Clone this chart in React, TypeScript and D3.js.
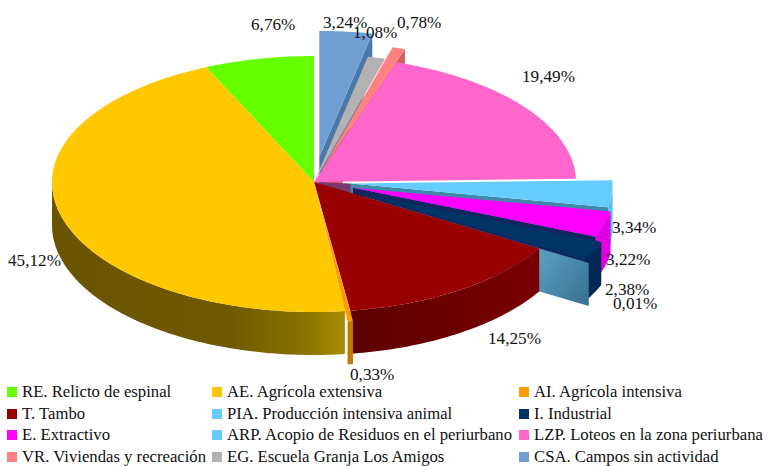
import React from "react";
import * as d3 from "d3";

const legendLabels = [
  "RE. Relicto de espinal", "AE. Agrícola extensiva", "AI. Agrícola intensiva",
  "T. Tambo", "PIA. Producción intensiva animal", "I. Industrial",
  "E. Extractivo", "ARP. Acopio de Residuos en el periurbano", "LZP. Loteos en la zona periurbana",
  "VR. Viviendas y recreación", "EG. Escuela Granja Los Amigos", "CSA. Campos sin actividad",
];
const codes = ["RE", "AE", "AI", "T", "PIA", "I", "E", "ARP", "LZP", "VR", "EG", "CSA"];
const shares = [6.76, 45.12, 0.33, 14.25, 0.01, 2.38, 3.22, 3.34, 19.49, 0.78, 1.08, 3.24];
const shareLabels = ["6,76%", "45,12%", "0,33%", "14,25%", "0,01%", "2,38%", "3,22%", "3,34%", "19,49%", "0,78%", "1,08%", "3,24%"];
const colors = ["#66ff00", "#ffc800", "#ff9900", "#990000", "#66ccff", "#003366", "#ff00ff", "#66ccff", "#ff66cc", "#ff8080", "#b2b2b2", "#6f9fd3"];

// layout (not data)
const explode: Record<string, number> = { AI: 0.08, PIA: 0.22, I: 0.19, E: 0.155, ARP: 0.14, VR: 0.11, EG: 0.015, CSA: 0.2 };
const labelAt: Record<string, [number, number]> = {
  RE: [251, 30], AE: [8, 266], AI: [350, 380], T: [488, 344], PIA: [613, 309], I: [605, 295],
  E: [606, 265], ARP: [612, 233], LZP: [522, 82], VR: [397, 28], EG: [353, 38], CSA: [323, 28],
};
const legendCols = [7, 212, 519];
const legendRows = [387, 409, 430, 452];
const cx = 314, cy = 182, rx = 262, ryBack = 126, ryFront = 130, depth = 43;
const paintOrder = ["CSA", "EG", "VR", "LZP", "ARP", "E", "I", "PIA", "T", "RE", "AE", "AI"];
const wallColors: Record<string, string> = { CSA: "#4a78a8", VR: "#d86060", ARP: "#3f8aa8", E: "#14245e", PIA: "url(#gPIA)" };
const sideFill: Record<string, string> = { AE: "url(#gAE)", T: "url(#gT)", AI: "#c27a00", I: "#002a55", E: "#e000e0", ARP: "#5cbcec", VR: "#d86060" };

const FONT = "'Liberation Serif', 'Times New Roman', serif";
type P = [number, number];
const line = d3.line<P>().x((d) => d[0]).y((d) => d[1]);
const ry = (a: number) => (Math.cos(a) > 0 ? ryBack : ryFront);
const pos = (a: number, r: number, o: P = [0, 0], dz = 0): P => [
  cx + o[0] + r * rx * Math.sin(a),
  cy + o[1] + dz - r * ry(a) * Math.cos(a),
];
const arcPts = (a0: number, a1: number, o: P, dz = 0): P[] => {
  const n = Math.max(2, Math.ceil(Math.abs(a1 - a0) * 60));
  return d3.range(n + 1).map((i) => pos(a0 + ((a1 - a0) * i) / n, 1, o, dz));
};

export default function App() {
  const pie = d3.pie<number>().sort(null).startAngle(2 * Math.PI).endAngle(0);
  const arcs = pie(shares);
  const rows = codes.map((c, i) => {
    const a0 = arcs[i].endAngle, a1 = arcs[i].startAngle;
    const mid = (a0 + a1) / 2;
    const e = explode[c] ?? 0;
    const o: P = [e * rx * Math.sin(mid), -e * ry(mid) * Math.cos(mid)];
    return { c, i, a0, a1, o, apex: [cx + o[0], cy + o[1]] as P };
  });
  const byCode = (c: string) => rows.find((r) => r.c === c)!;
  const parts: React.ReactNode[] = [];
  for (const code of paintOrder) {
    const s = byCode(code);
    const lo = Math.max(s.a0, Math.PI / 2), hi = Math.min(s.a1, (3 * Math.PI) / 2);
    if (code === "ARP") {
      // shaded hub left uncovered where the exploded slices pull away from the centre
      parts.push(
        <path key="hub" fill="#7a3a70"
          d={line([[cx, cy], byCode("ARP").apex, byCode("E").apex, byCode("I").apex, [byCode("I").apex[0], byCode("I").apex[1] + 4]])! + "Z"} />
      );
    }
    if (wallColors[code]) {
      const corner = pos(s.a1, 1, s.o);
      parts.push(
        <path key={code + "w"} fill={wallColors[code]}
          d={line([s.apex, corner, [corner[0], corner[1] + depth], [s.apex[0], s.apex[1] + depth]])! + "Z"} />
      );
    }
    if (hi > lo && sideFill[code]) {
      const top = arcPts(lo, hi, s.o);
      const bot = arcPts(hi, lo, s.o, depth);
      parts.push(<path key={code + "s"} fill={sideFill[code]} d={line([...top, ...bot])! + "Z"} />);
    }
    parts.push(
      <path key={code + "t"} fill={colors[s.i]} d={line([s.apex, ...arcPts(s.a0, s.a1, s.o)])! + "Z"} />
    );
  }
  return (
    <svg width={768} height={466} style={{ position: "absolute", left: 0, top: 0, background: "#fff" }} fontFamily={FONT}>
      <defs>
        <linearGradient id="gAE" gradientUnits="userSpaceOnUse" x1={52} x2={345} y1={0} y2={0}>
          <stop offset="0" stopColor="#6a5400" />
          <stop offset="0.6" stopColor="#6e5800" />
          <stop offset="0.85" stopColor="#8a7000" />
          <stop offset="1" stopColor="#a88c00" />
        </linearGradient>
        <linearGradient id="gT" gradientUnits="userSpaceOnUse" x1={350} x2={540} y1={0} y2={0}>
          <stop offset="0" stopColor="#5c0000" />
          <stop offset="1" stopColor="#7a0000" />
        </linearGradient>
        <linearGradient id="gPIA" gradientUnits="userSpaceOnUse" x1={538} x2={593} y1={260} y2={300}>
          <stop offset="0" stopColor="#5a9cc0" />
          <stop offset="1" stopColor="#37708f" />
        </linearGradient>
      </defs>
      {parts}
      {codes.map((c, i) => (
        <text key={c} x={labelAt[c][0]} y={labelAt[c][1]} fontSize={17.2} fill="#111">{shareLabels[i]}</text>
      ))}
      {legendLabels.map((t, i) => {
        const x = legendCols[i % 3], y = legendRows[Math.floor(i / 3)];
        return (
          <g key={t}>
            <rect x={x} y={y} width={10} height={10} fill={colors[i]} />
            <text x={x + 15} y={y + 10} fontSize={16.7} fill="#111">{t}</text>
          </g>
        );
      })}
    </svg>
  );
}
